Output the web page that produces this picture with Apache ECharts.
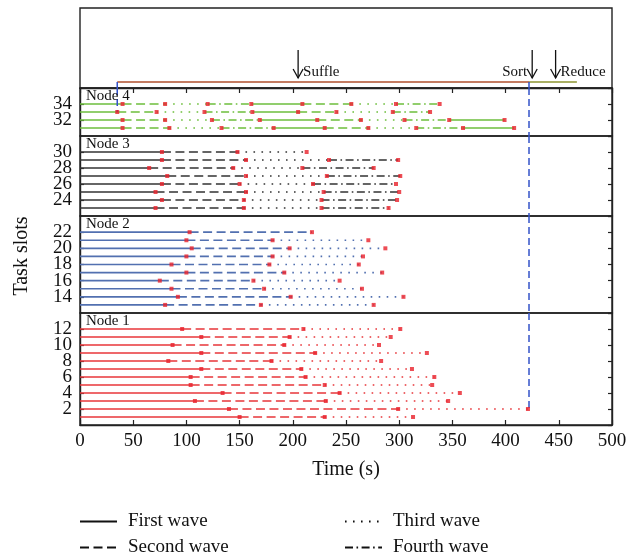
<!DOCTYPE html>
<html><head><meta charset="utf-8">
<script src="https://cdn.jsdelivr.net/npm/echarts@6/dist/echarts.min.js"></script>
<style>html,body{margin:0;padding:0;background:#fff}#c{width:637px;height:556px}</style>
</head><body><div id="c"></div><script>
const FONT = '"Liberation Serif", "DejaVu Serif", serif';

// ---------- data ----------
const waveNames = ['First wave', 'Second wave', 'Third wave', 'Fourth wave'];
const nodeNames = ['Node 4', 'Node 3', 'Node 2', 'Node 1'];

// end time of every wave (s), per task slot; waves cycle solid/dashed/dotted/dash-dot
const node4Slots = [34, 33, 32, 31];
const node4Times = [
  [40, 80, 120, 161, 209, 255, 297, 338],
  [35, 72, 117, 162, 205, 241, 294, 329],
  [40, 80, 124, 169, 223, 264, 305, 347, 399],
  [40, 84, 133, 182, 230, 271, 316, 360, 408]
];
const node3Slots = [30, 29, 28, 27, 26, 25, 24, 23];
const node3Times = [
  [77, 148, 213],
  [77, 156, 234, 299],
  [65, 144, 209, 276],
  [82, 156, 232, 301],
  [77, 150, 219, 297],
  [71, 156, 229, 300],
  [77, 154, 227, 298],
  [71, 154, 227, 290]
];
const node2Slots = [22, 21, 20, 19, 18, 17, 16, 15, 14, 13];
const node2Times = [
  [103, 218],
  [100, 181, 271],
  [105, 197, 287],
  [100, 181, 266],
  [86, 178, 262],
  [100, 192, 284],
  [75, 163, 244],
  [86, 173, 265],
  [92, 198, 304],
  [80, 170, 276]
];
const node1Slots = [12, 11, 10, 9, 8, 7, 6, 5, 4, 3, 2, 1];
const node1Times = [
  [96, 210, 301],
  [114, 197, 292],
  [87, 192, 281],
  [114, 221, 326],
  [83, 180, 283],
  [114, 208, 312],
  [104, 212, 333],
  [104, 230, 331],
  [134, 244, 357],
  [108, 231, 346],
  [140, 299, 421],
  [150, 230, 313]
];
// slot range of each panel
const node4Range = [30, 36];
const node3Range = [22, 32];
const node2Range = [12, 24];
const node1Range = [0, 14];

// phases (s)
const shuffleStart = 35;
const sortTime = 422;
const reduceEnd = 467;
const phaseNames = ['Suffle', 'Sort', 'Reduce'];
const phaseArrowTimes = [205, 425, 447];
const phaseLabelSides = ['right', 'left', 'right'];

// x axis ticks
const xMin = 0, xMax = 500, xStep = 50;
const yStep = 2;

// ---------- styles ----------
const nodeColors = ['#6dbe3c', '#333333', '#5270b0', '#e8363a'];
const dashes = [null, [9, 4.5], [1.6, 6.4], [8, 3.5, 1.6, 3.5]];
const legendTypes = ['solid', [9, 4.5], [1.6, 6.4], [8, 3.5, 1.6, 3.5]];
const gridTops = [8, 88, 136, 216, 313];
const gridHeights = [80, 48, 80, 97, 112];

const nodes = [
  {slots: node4Slots, times: node4Times, range: node4Range},
  {slots: node3Slots, times: node3Times, range: node3Range},
  {slots: node2Slots, times: node2Times, range: node2Range},
  {slots: node1Slots, times: node1Times, range: node1Range}
];

const grids = gridTops.map((t, i) => ({
  left: 80, width: 532, top: t, height: gridHeights[i],
  show: true, borderColor: '#222', borderWidth: 1.4, backgroundColor: 'transparent'
}));

const xAxes = gridTops.map((t, i) => {
  const base = {type: 'value', gridIndex: i, min: xMin, max: xMax, interval: xStep, splitLine: {show: false}};
  if (i === 0) return Object.assign(base, {
    position: 'top', axisLine: {show: true, lineStyle: {color: '#222', width: 1.4}},
    axisTick: {show: true, inside: true, length: 5, lineStyle: {color: '#222', width: 1.2}},
    axisLabel: {show: false}
  });
  if (i === 4) return Object.assign(base, {
    position: 'bottom', axisLine: {show: true, lineStyle: {color: '#222', width: 1.4}},
    axisTick: {show: true, inside: true, length: 5, lineStyle: {color: '#222', width: 1.2}},
    axisLabel: {show: true, fontFamily: FONT, fontSize: 19, color: '#111', margin: 7},
    name: 'Time (s)', nameLocation: 'middle', nameGap: 35,
    nameTextStyle: {fontFamily: FONT, fontSize: 20, color: '#111'}
  });
  return Object.assign(base, {show: false});
});

const yAxes = [];
yAxes.push({type: 'value', gridIndex: 0, min: 0, max: 80, show: false});
nodes.forEach((n, k) => {
  const lo = n.range[0], hi = n.range[1];
  yAxes.push({
    type: 'value', gridIndex: k + 1, min: lo, max: hi, interval: yStep, position: 'left',
    splitLine: {show: false},
    axisLine: {show: true, lineStyle: {color: '#222', width: 1.4}},
    axisTick: {show: true, inside: true, length: 4, lineStyle: {color: '#222', width: 1.2}},
    axisLabel: {show: true, showMinLabel: false, showMaxLabel: false, fontFamily: FONT, fontSize: 19, color: '#111', margin: 8,
      formatter: v => (v > lo && v < hi) ? String(v) : ''}
  });
});
nodes.forEach((n, k) => {
  yAxes.push({
    type: 'value', gridIndex: k + 1, min: n.range[0], max: n.range[1], interval: yStep, position: 'right',
    splitLine: {show: false},
    axisLine: {show: true, lineStyle: {color: '#222', width: 1.4}},
    axisTick: {show: true, inside: true, length: 4, lineStyle: {color: '#222', width: 1.2}},
    axisLabel: {show: false}
  });
});

function makeSeg(color) {
  return function (params, api) {
    const y = api.value(0), s = api.value(1), e = api.value(2), w = api.value(3);
    const p1 = api.coord([s, y]), p2 = api.coord([e, y]);
    return {type: 'line', shape: {x1: p1[0], y1: p1[1], x2: p2[0], y2: p2[1]},
      style: {stroke: color, lineWidth: 1.6, lineDash: dashes[w], fill: null}};
  };
}

const series = [];
nodes.forEach((n, k) => {
  const g = k + 1;
  const segs = [], pts = [];
  n.slots.forEach((s, i) => {
    let prev = 0;
    n.times[i].forEach((t, j) => { segs.push([s, prev, t, j % 4]); pts.push([t, s]); prev = t; });
  });
  series.push({type: 'custom', xAxisIndex: g, yAxisIndex: g, data: segs, renderItem: makeSeg(nodeColors[k]),
    encode: {x: [1, 2], y: 0}, silent: true, z: 2});
  series.push({type: 'scatter', xAxisIndex: g, yAxisIndex: g, data: pts, symbol: 'rect', symbolSize: 4,
    itemStyle: {color: '#e8202a'}, silent: true, z: 5});
});

// blue dashed markers of the phase boundaries
const blue = {color: '#3352c8', width: 1.5, type: [7, 4]};
function vline(g, t, y0, y1) {
  series.push({type: 'line', xAxisIndex: g, yAxisIndex: g, data: [[t, y0], [t, y1]], symbol: 'none',
    lineStyle: blue, silent: true, z: 4, animation: false});
}
vline(0, shuffleStart, 6, 0);
vline(1, shuffleStart, node4Range[1], 33);
vline(0, sortTime, 6, 0);
vline(1, sortTime, node4Range[1], node4Range[0]);
vline(2, sortTime, node3Range[1], node3Range[0]);
vline(3, sortTime, node2Range[1], node2Range[0]);
vline(4, sortTime, node1Range[1], 2);

// phase bars in top panel
series.push({type: 'line', xAxisIndex: 0, yAxisIndex: 0, data: [[shuffleStart, 6], [sortTime, 6]], symbol: 'none',
  lineStyle: {color: '#b0502e', width: 1.6}, silent: true, z: 3});
series.push({type: 'line', xAxisIndex: 0, yAxisIndex: 0, data: [[sortTime, 6], [reduceEnd, 6]], symbol: 'none',
  lineStyle: {color: '#8c9431', width: 1.6}, silent: true, z: 3});

// arrows + phase labels
series.push({type: 'custom', xAxisIndex: 0, yAxisIndex: 0,
  data: phaseArrowTimes.map((t, i) => [t, i]),
  encode: {x: 0, y: 1},
  silent: true, z: 5,
  renderItem: function (params, api) {
    const t = api.value(0), i = api.value(1);
    const top = api.coord([t, 38]), tip = api.coord([t, 10]), mid = api.coord([t, 16]);
    const side = phaseLabelSides[i];
    return {type: 'group', children: [
      {type: 'line', shape: {x1: top[0], y1: top[1], x2: tip[0], y2: tip[1]}, style: {stroke: '#111', lineWidth: 1.3}},
      {type: 'polyline', shape: {points: [[tip[0] - 5, tip[1] - 9], [tip[0], tip[1]], [tip[0] + 5, tip[1] - 9]]},
        style: {stroke: '#111', lineWidth: 1.3, fill: null}},
      {type: 'text', x: side === 'right' ? mid[0] + 5 : mid[0] - 5, y: mid[1],
        style: {text: phaseNames[i], font: '15px ' + FONT, fill: '#111',
          align: side === 'right' ? 'left' : 'right', verticalAlign: 'middle'}}
    ]};
  }
});

// legend dummy series
waveNames.forEach((name, i) => {
  series.push({type: 'line', name: name, xAxisIndex: 4, yAxisIndex: 4, data: [], symbol: 'none',
    lineStyle: {color: '#111', width: 1.3, type: legendTypes[i]}, itemStyle: {color: '#111', opacity: 0}});
});

const legendLefts = [74, 74, 339, 339];
const legendTops = [507, 533, 507, 533];
const legends = waveNames.map((name, i) => ({
  data: [name], orient: 'horizontal', left: legendLefts[i], top: legendTops[i],
  itemWidth: 37, itemHeight: 14, selectedMode: false,
  itemStyle: {opacity: 0},
  textStyle: {fontFamily: FONT, fontSize: 19, color: '#111', padding: [0, 0, 0, 6]}
}));

const graphics = nodeNames.map((nm, k) => ({
  type: 'text', left: 86, top: gridTops[k + 1] + 1, z: 10,
  style: {text: nm, font: '15px ' + FONT, fill: '#111'}
}));
graphics.push({type: 'text', x: 22, y: 256, rotation: Math.PI / 2,
  style: {text: 'Task slots', font: '20px ' + FONT, fill: '#111', align: 'center', verticalAlign: 'middle'}});

const chart = echarts.init(document.getElementById('c'));
chart.setOption({
  animation: false,
  backgroundColor: '#fff',
  grid: grids,
  xAxis: xAxes,
  yAxis: yAxes,
  legend: legends,
  graphic: graphics,
  series: series
});
</script></body></html>
